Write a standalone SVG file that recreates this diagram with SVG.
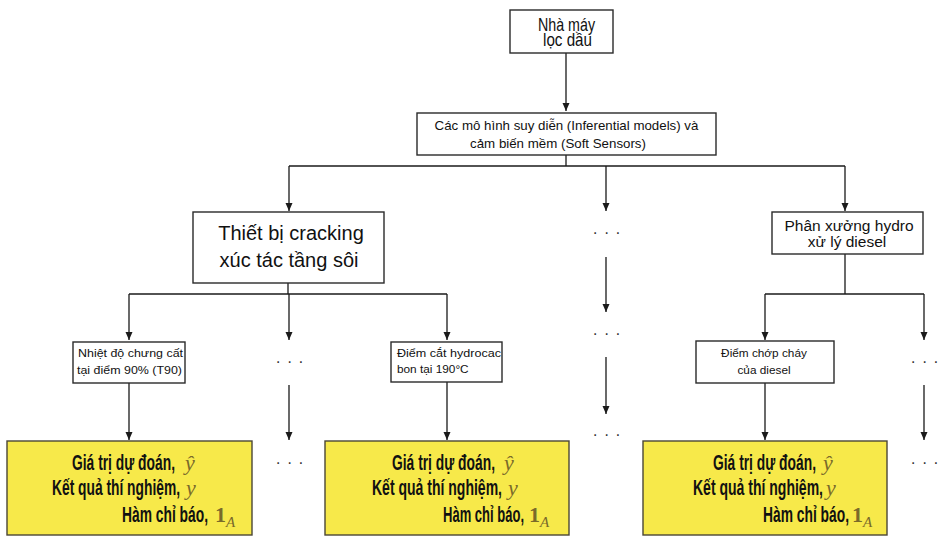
<svg xmlns="http://www.w3.org/2000/svg" width="945" height="539" viewBox="0 0 945 539">
<defs>
<marker id="arr" markerUnits="userSpaceOnUse" markerWidth="8" markerHeight="8" refX="8" refY="3.5" orient="auto">
<path d="M0,0 L8,3.5 L0,7 z" fill="#1a1a1a"/>
</marker>
<style>
.box{fill:#ffffff;stroke:#2a2a2a;stroke-width:1.4}
.ybox{fill:#f7e94a;stroke:#4a4636;stroke-width:1.4}
.ln{fill:none;stroke:#1a1a1a;stroke-width:1.3}
.ar{fill:none;stroke:#1a1a1a;stroke-width:1.3;marker-end:url(#arr)}
.t{font-family:"Liberation Sans",Arial,sans-serif;fill:#111}
.c{font-family:"Liberation Sans",Arial,sans-serif;font-weight:bold;fill:#111;font-size:22.5px}
.m{font-family:"Liberation Serif","Times New Roman",serif;font-style:italic;fill:#7a6a2a;font-size:22px}
.mb{font-family:"Liberation Serif","Times New Roman",serif;font-weight:bold;fill:#7a6a2a;font-size:22px}
.ms{font-weight:normal;font-style:italic;font-size:15px}
.d{font-family:"Liberation Sans",Arial,sans-serif;fill:#333;font-size:16px;letter-spacing:0.8px}
</style>
</defs>

<g id="connectors">
<path class="ar" d="M566,53 V111"/>
<path class="ln" d="M566,155 V166"/>
<path class="ln" d="M289,166 H845"/>
<path class="ar" d="M289,166 V211"/>
<path class="ar" d="M606,166 V211"/>
<path class="ar" d="M845,166 V211"/>
<path class="ln" d="M288,283 V294"/>
<path class="ln" d="M129,294 H447"/>
<path class="ar" d="M129,294 V340"/>
<path class="ar" d="M289,294 V340"/>
<path class="ar" d="M447,294 V340"/>
<path class="ar" d="M129,383 V440"/>
<path class="ar" d="M289,385 V440"/>
<path class="ar" d="M447,382 V440"/>
<path class="ar" d="M606,257 V312"/>
<path class="ar" d="M606,357 V414"/>
<path class="ln" d="M845,254 V294"/>
<path class="ln" d="M765,294 H924"/>
<path class="ar" d="M765,294 V340"/>
<path class="ar" d="M924,294 V340"/>
<path class="ar" d="M765,383 V440"/>
<path class="ar" d="M924,385 V440"/>
</g>

<g id="dots">
<text class="d" x="290" y="367" text-anchor="middle">· · ·</text>
<text class="d" x="290" y="468" text-anchor="middle">· · ·</text>
<text class="d" x="607" y="238" text-anchor="middle">· · ·</text>
<text class="d" x="607" y="339" text-anchor="middle">· · ·</text>
<text class="d" x="607" y="440" text-anchor="middle">· · ·</text>
<text class="d" x="925" y="367" text-anchor="middle">· · ·</text>
<text class="d" x="925" y="468" text-anchor="middle">· · ·</text>
</g>

<g id="refinery">
<rect class="box" x="510" y="10" width="103" height="43"/>
<text class="t" x="538" y="31" font-size="19" textLength="57" lengthAdjust="spacingAndGlyphs">Nhà máy</text>
<text class="t" x="543" y="46" font-size="19" textLength="49" lengthAdjust="spacingAndGlyphs">lọc dầu</text>
</g>

<g id="models">
<rect class="box" x="417" y="113" width="299" height="42"/>
<text class="t" x="566.5" y="130" font-size="13.3" text-anchor="middle">Các mô hình suy diễn (Inferential models) và</text>
<text class="t" x="558" y="148" font-size="13.3" text-anchor="middle">cảm biến mềm (Soft Sensors)</text>
</g>

<g id="fcc">
<rect class="box" x="193" y="212" width="191" height="71"/>
<text class="t" x="291" y="240" font-size="20" text-anchor="middle">Thiết bị cracking</text>
<text class="t" x="289" y="267" font-size="20" text-anchor="middle">xúc tác tầng sôi</text>
</g>

<g id="hdt">
<rect class="box" x="772" y="212" width="151" height="42"/>
<text class="t" x="849" y="231" font-size="15.5" text-anchor="middle">Phân xưởng hydro</text>
<text class="t" x="847" y="247" font-size="15.5" text-anchor="middle">xử lý diesel</text>
</g>

<g id="t90">
<rect class="box" x="73" y="342" width="112" height="41"/>
<text class="t" x="78" y="357" font-size="11.8" textLength="105" lengthAdjust="spacingAndGlyphs">Nhiệt độ chưng cất</text>
<text class="t" x="77" y="374" font-size="11.8" textLength="105" lengthAdjust="spacingAndGlyphs">tại điểm 90% (T90)</text>
</g>

<g id="cutpoint">
<rect class="box" x="391" y="342" width="111" height="40"/>
<text class="t" x="397" y="357" font-size="11.8" textLength="104" lengthAdjust="spacingAndGlyphs">Điểm cắt hydrocac</text>
<text class="t" x="397" y="373" font-size="11.8">bon tại 190°C</text>
</g>

<g id="flashpoint">
<rect class="box" x="696" y="341" width="138" height="42"/>
<text class="t" x="764" y="357" font-size="11.8" text-anchor="middle">Điểm chớp cháy</text>
<text class="t" x="764" y="374" font-size="11.8" text-anchor="middle">của diesel</text>
</g>

<g id="result1">
<rect class="ybox" x="7" y="441" width="245" height="94"/>
<text class="c" x="72" y="470" textLength="103" lengthAdjust="spacingAndGlyphs">Giá trị dự đoán,</text>
<text class="m" x="185" y="470">ŷ</text>
<text class="c" x="52" y="495" textLength="128" lengthAdjust="spacingAndGlyphs">Kết quả thí nghiệm,</text>
<text class="m" x="186" y="495">y</text>
<text class="c" x="122" y="522" textLength="86" lengthAdjust="spacingAndGlyphs">Hàm chỉ báo,</text>
<text class="mb" x="215" y="522">1<tspan class="ms" dy="5">A</tspan></text>
</g>

<g id="result2">
<rect class="ybox" x="325" y="441" width="244" height="94"/>
<text class="c" x="392" y="470" textLength="103" lengthAdjust="spacingAndGlyphs">Giá trị dự đoán,</text>
<text class="m" x="504" y="470">ŷ</text>
<text class="c" x="372" y="495" textLength="130" lengthAdjust="spacingAndGlyphs">Kết quả thí nghiệm,</text>
<text class="m" x="508" y="495">y</text>
<text class="c" x="443" y="522" textLength="81" lengthAdjust="spacingAndGlyphs">Hàm chỉ báo,</text>
<text class="mb" x="529" y="522">1<tspan class="ms" dy="5">A</tspan></text>
</g>

<g id="result3">
<rect class="ybox" x="643" y="441" width="244" height="94"/>
<text class="c" x="713" y="470" textLength="103" lengthAdjust="spacingAndGlyphs">Giá trị dự đoán,</text>
<text class="m" x="823" y="470">ŷ</text>
<text class="c" x="693" y="495" textLength="130" lengthAdjust="spacingAndGlyphs">Kết quả thí nghiệm,</text>
<text class="m" x="826" y="495">y</text>
<text class="c" x="763" y="522" textLength="86" lengthAdjust="spacingAndGlyphs">Hàm chỉ báo,</text>
<text class="mb" x="852" y="522">1<tspan class="ms" dy="5">A</tspan></text>
</g>
</svg>
